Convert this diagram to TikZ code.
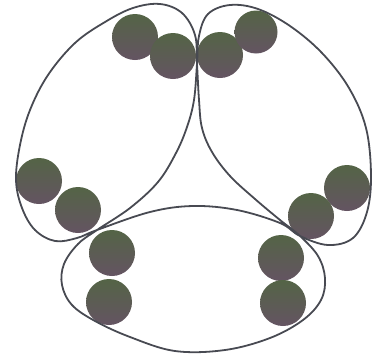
\documentclass[tikz,border=0pt]{standalone}
\definecolor{ballgreen}{RGB}{84,100,70}
\definecolor{ballpurple}{RGB}{100,84,98}
\definecolor{knotgray}{RGB}{72,74,82}

\begin{document}
\begin{tikzpicture}[x=0.5mm,y=-0.5mm,ball/.style={circle, inner sep=0pt, minimum size=23mm, top color=ballgreen, bottom color=ballpurple},knot/.style={draw=knotgray, line width=0.9mm, line join=round}]
\useasboundingbox (0,0) rectangle (379,361);
\node[ball] (b1) at (135,37) {};\node[ball] (b2) at (173,56) {};\node[ball] (b3) at (220,55) {};\node[ball, minimum size=21.5mm] (b4) at (256,32) {};
\node[ball] (b5) at (39,181) {};\node[ball] (b6) at (78,210) {};\node[ball] (b7) at (112,253) {};\node[ball] (b8) at (109,302) {};
\node[ball] (b9) at (347,188) {};\node[ball] (b10) at (311,216) {};\node[ball] (b11) at (281,258) {};\node[ball] (b12) at (283,303) {};
\draw[knot] plot[smooth cycle, tension=0.6] coordinates {(97,230) (150,212) (193,206) (237,210) (280,223) (300,236) (328,245) (353,238) (367,212) (371,175) (366,128) (349,88) (322,53) (290,26) (258,9) (230,5) (208,14) (199,36) (197,64) (194,100) (187,127) (176,153) (158,182) (130,208) (97,230) (78,244) (64,264) (62,285) (72,305) (95,321) (130,337) (175,351) (225,350) (270,338) (303,320) (321,300) (325,278) (318,256) (300,236) (280,220) (255,199) (230,176) (212,152) (202,128) (199,100) (197,64) (195,35) (182,13) (160,4) (133,8) (105,22) (75,43) (48,75) (30,110) (20,145) (16,180) (22,208) (35,230) (55,241) (77,238)};
\end{tikzpicture}
\end{document}
